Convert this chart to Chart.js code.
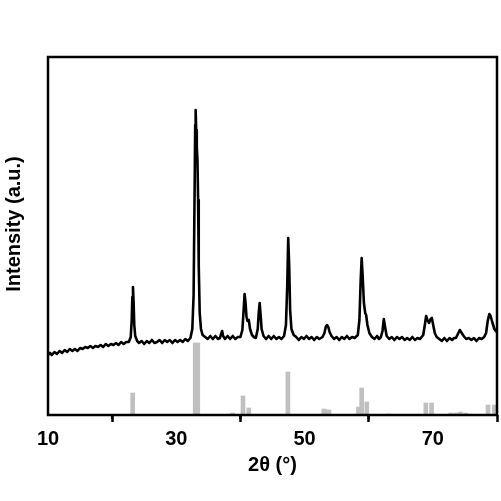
<!DOCTYPE html>
<html>
<head>
<meta charset="utf-8">
<script src="https://cdn.jsdelivr.net/npm/chart.js@4/dist/chart.umd.min.js"></script>
<style>
  body { margin: 0; background: #fff; }
  #wrap { width: 501px; height: 501px; }
</style>
</head>
<body>
<div id="wrap"><canvas id="xrdChart"></canvas></div>
<script>
// Measured pattern (2θ in degrees, intensity in arbitrary units)
const angle = [
  10.0, 10.3, 10.6, 11.0, 11.4, 11.8, 12.2, 12.6, 13.0, 13.4, 13.8, 14.2, 14.6, 15.0, 15.4, 15.8,
  16.2, 16.6, 17.0, 17.4, 17.8, 18.2, 18.6, 19.0, 19.4, 19.8, 20.2, 20.6, 21.0, 21.4, 21.8, 22.2,
  22.6, 22.9, 23.05, 23.15, 23.25, 23.35, 23.45, 23.6, 23.9, 24.2, 24.6, 25.0, 25.4, 25.8, 26.2, 26.6,
  27.0, 27.4, 27.8, 28.2, 28.6, 29.0, 29.4, 29.8, 30.2, 30.6, 31.0, 31.4, 31.8, 32.2, 32.5, 32.7,
  32.85, 32.95, 33.02, 33.1, 33.2, 33.3, 33.4, 33.5, 33.65, 33.85, 34.1, 34.5, 34.9, 35.3, 35.7, 36.1,
  36.5, 36.8, 37.0, 37.15, 37.3, 37.6, 38.0, 38.4, 38.8, 39.2, 39.6, 40.0, 40.3, 40.5, 40.65, 40.8,
  40.95, 41.1, 41.3, 41.5, 41.8, 42.1, 42.4, 42.7, 42.85, 43.0, 43.15, 43.3, 43.6, 44.0, 44.4, 44.8,
  45.2, 45.6, 46.0, 46.4, 46.8, 47.1, 47.3, 47.45, 47.6, 47.75, 47.95, 48.3, 48.7, 49.1, 49.5, 49.9,
  50.3, 50.7, 51.1, 51.5, 51.9, 52.3, 52.8, 53.1, 53.3, 53.5, 53.7, 53.9, 54.2, 54.6, 55.0, 55.4,
  55.8, 56.2, 56.6, 57.0, 57.4, 57.8, 58.3, 58.55, 58.75, 58.9, 59.05, 59.25, 59.45, 59.6, 59.8, 60.1,
  60.5, 60.9, 61.3, 61.6, 61.9, 62.15, 62.35, 62.55, 62.8, 63.2, 63.6, 64.0, 64.4, 64.8, 65.2, 65.6,
  66.0, 66.4, 66.8, 67.2, 67.6, 68.0, 68.5, 68.75, 68.95, 69.15, 69.4, 69.65, 69.85, 70.05, 70.3, 70.6,
  71.0, 71.4, 71.8, 72.2, 72.6, 73.0, 73.3, 73.6, 73.9, 74.2, 74.5, 74.8, 75.2, 75.6, 76.0, 76.4,
  76.8, 77.2, 77.6, 78.0, 78.3, 78.55, 78.8, 79.0, 79.3, 79.6, 79.8, 80.0
];
const intensity = [
  60, 62, 60, 63, 61, 64, 62, 65, 63, 66, 64, 66, 64, 67, 66, 68,
  67, 69, 67, 69, 68, 70, 68, 71, 69, 71, 70, 72, 70, 73, 71, 73,
  73, 78, 95, 118, 128, 112, 90, 79, 74, 72, 74, 71, 74, 72, 75, 72,
  73, 75, 72, 75, 73, 75, 72, 75, 73, 75, 73, 76, 74, 77, 86, 120,
  220, 290, 305, 285, 268, 255, 215, 150, 102, 86, 80, 78, 76, 79, 76, 79,
  76, 77, 81, 84, 79, 76, 79, 76, 79, 76, 78, 78, 85, 105, 121, 112,
  98, 94, 95, 86, 80, 78, 77, 86, 102, 112, 100, 86, 79, 76, 79, 76,
  79, 76, 78, 76, 79, 90, 130, 177, 150, 105, 86, 80, 78, 75, 78, 76,
  79, 76, 78, 75, 78, 76, 78, 82, 88, 90, 88, 83, 79, 76, 78, 75,
  78, 76, 79, 76, 78, 77, 80, 95, 135, 157, 140, 112, 102, 100, 90, 82,
  78, 76, 79, 76, 78, 84, 96, 88, 79, 76, 78, 75, 78, 76, 78, 75,
  77, 75, 78, 75, 77, 76, 80, 90, 99, 95, 92, 96, 97, 90, 82, 78,
  76, 74, 77, 74, 77, 75, 77, 77, 81, 85, 82, 79, 76, 77, 75, 77,
  74, 77, 76, 78, 82, 94, 101, 99, 92, 86, 84, 83
];

// Reference pattern sticks
const refAngle = [23.2, 32.95, 33.35, 38.8, 40.4, 41.3, 47.4, 53.0, 53.4, 53.8, 58.4, 58.9, 59.7,
  63.1, 68.9, 69.8, 72.8, 73.6, 74.3, 75.1, 78.6, 79.6];
const refHeight = [22, 72, 72, 2, 19, 7, 43, 6, 5, 5, 8, 27, 13,
  1, 12, 12, 2, 2, 3, 2, 10, 10];

// Axis ticks
const majorTicks = [10, 30, 50, 70];
const minorTicks = [20, 40, 60];
const xMin = 10, xMax = 80;
const yMin = 0, yMax = 358;

const FONT = "'Liberation Sans', Arial, sans-serif";

// Box frame, minor ticks and y title
const framePlugin = {
  id: "frame",
  afterDraw(chart) {
    const { ctx, chartArea: a, scales } = chart;
    ctx.save();
    ctx.strokeStyle = "#000";
    ctx.lineWidth = 2.5;
    ctx.strokeRect(a.left, a.top, a.right - a.left, a.bottom - a.top);

    minorTicks.forEach(v => {
      const x = scales.x.getPixelForValue(v);
      ctx.beginPath();
      ctx.moveTo(x, a.bottom);
      ctx.lineTo(x, a.bottom + 4);
      ctx.stroke();
    });

    ctx.translate(14, 224);
    ctx.rotate(-Math.PI / 2);
    ctx.fillStyle = "#000";
    ctx.font = "bold 20px " + FONT;
    ctx.textAlign = "center";
    ctx.textBaseline = "middle";
    ctx.fillText("Intensity (a.u.)", 0, 0);
    ctx.restore();
  }
};

const ctx = document.getElementById("xrdChart").getContext("2d");

new Chart(ctx, {
  data: {
    datasets: [
      {
        type: "line",
        label: "Sample",
        data: angle.map((a, i) => ({ x: a, y: intensity[i] })),
        borderColor: "#000",
        borderWidth: 2.6,
        borderJoinStyle: "round",
        pointRadius: 0,
        tension: 0,
        order: 0
      },
      {
        type: "bar",
        label: "Reference",
        data: refAngle.map((a, i) => ({ x: a, y: refHeight[i] })),
        backgroundColor: "#c0c0c0",
        barThickness: 4,
        order: 1
      }
    ]
  },
  options: {
    responsive: true,
    maintainAspectRatio: false,
    animation: false,
    layout: { padding: { left: 48, top: 57, right: 4, bottom: 24 } },
    plugins: {
      legend: { display: false },
      tooltip: { enabled: false }
    },
    scales: {
      x: {
        type: "linear",
        min: xMin,
        max: xMax,
        offset: false,
        afterBuildTicks: s => {
          s.ticks = majorTicks.map(v => ({ value: v }));
        },
        ticks: {
          color: "#000",
          padding: 5,
          maxRotation: 0,
          font: { family: FONT, size: 20, weight: "bold" }
        },
        grid: {
          drawOnChartArea: false,
          drawTicks: true,
          tickLength: 7,
          tickWidth: 2.5,
          tickColor: "#000"
        },
        border: { display: false },
        title: {
          display: true,
          text: "2θ (°)",
          color: "#000",
          padding: { top: -3, bottom: 0 },
          font: { family: FONT, size: 20, weight: "bold" }
        }
      },
      y: {
        display: false,
        min: yMin,
        max: yMax
      }
    }
  },
  plugins: [framePlugin]
});
</script>
</body>
</html>
